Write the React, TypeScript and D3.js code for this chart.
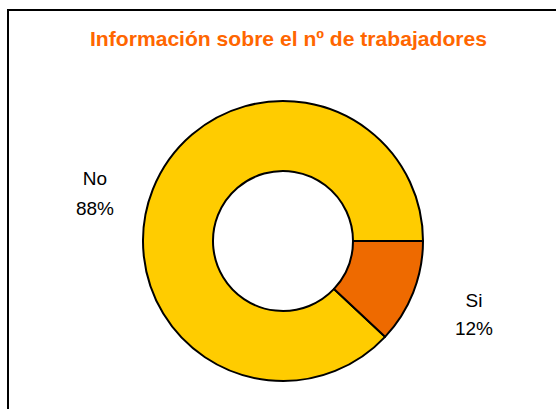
import React from "react";
import * as d3 from "d3";

const categories = ["No", "Si"];
const values = [88, 12];
const percentLabels = ["88%", "12%"];
const colors = ["#FFCC00", "#EE6A00"];
const title = "Información sobre el nº de trabajadores";

export default function App() {
  const width = 556;
  const height = 409;
  const cx = 283;
  const cy = 241;
  const outerR = 140;
  const innerR = 70;
  const total = d3.sum(values);
  const start = Math.PI / 2 + (2 * Math.PI * values[1]) / total;
  const pie = d3
    .pie<number>()
    .sort(null)
    .startAngle(start)
    .endAngle(start + 2 * Math.PI)
    .value((d) => d);
  const arcs = pie(values);
  const arc = d3.arc<d3.PieArcDatum<number>>().innerRadius(innerR).outerRadius(outerR);

  const labelPos = [
    { x: 95, y1: 185, y2: 215 },
    { x: 474, y1: 307, y2: 335 },
  ];

  return (
    <svg
      width={width}
      height={height}
      style={{ position: "absolute", left: 0, top: 0, display: "block", background: "#fff" }}
      fontFamily="'Liberation Sans', Arial, sans-serif"
    >
      <rect x={0} y={0} width={width} height={height} fill="#fff" />
      <path d={`M8,${height + 5} L8,10 L${width + 5},10`} fill="none" stroke="#000" strokeWidth={2} />
      <text x={288.5} y={46} textAnchor="middle" fontSize={20.5} fontWeight="bold" fill="#FF6600" textLength={397} lengthAdjust="spacingAndGlyphs">
        {title}
      </text>
      <g transform={`translate(${cx},${cy})`}>
        {arcs.map((a, i) => (
          <path key={categories[i]} d={arc(a) || ""} fill={colors[i]} stroke="#000" strokeWidth={2} strokeLinejoin="round" />
        ))}
      </g>
      {categories.map((c, i) => (
        <g key={c} fontSize={19} fill="#000" textAnchor="middle">
          <text x={labelPos[i].x} y={labelPos[i].y1}>{c}</text>
          <text x={labelPos[i].x} y={labelPos[i].y2}>{percentLabels[i]}</text>
        </g>
      ))}
    </svg>
  );
}
